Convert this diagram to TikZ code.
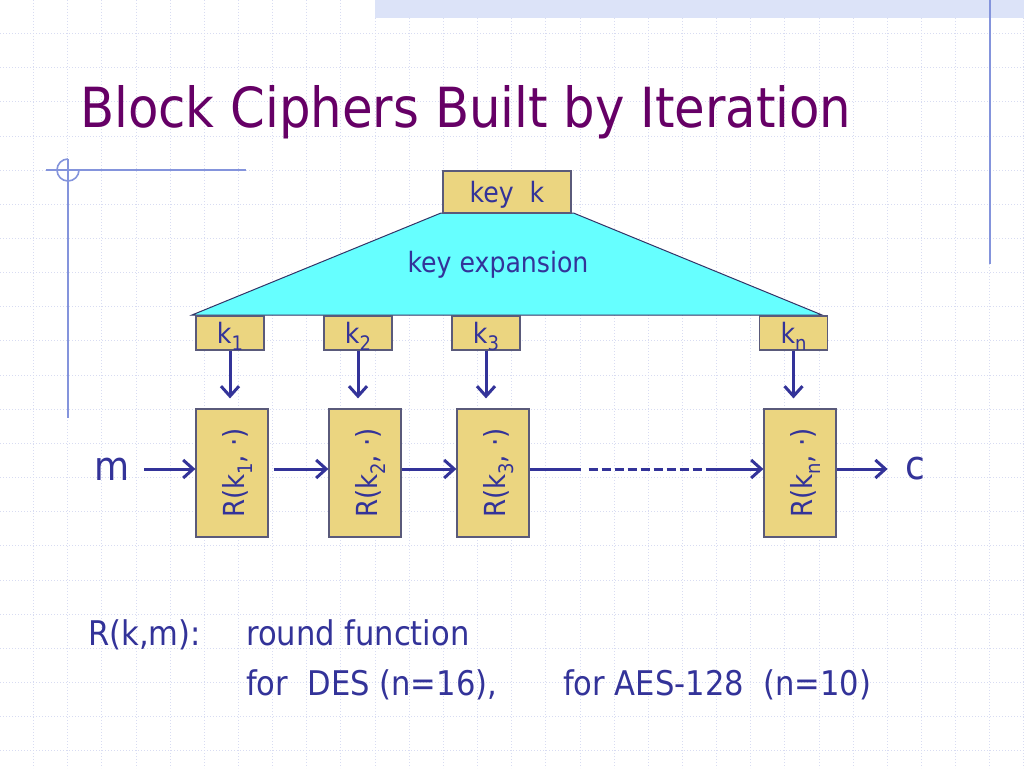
\documentclass[tikz,border=0pt]{standalone}
\usepackage{fontspec}
\setmainfont{DejaVu Sans Condensed}
\usetikzlibrary{arrows.meta,calc}
\definecolor{titlec}{HTML}{660066}
\definecolor{txt}{HTML}{333399}
\definecolor{boxfill}{HTML}{EBD580}
\definecolor{boxdraw}{HTML}{5A5A7A}
\definecolor{cyanfill}{HTML}{66FFFF}
\definecolor{trapdraw}{HTML}{333366}
\definecolor{deco}{HTML}{8494DC}
\definecolor{gridc}{HTML}{D8DCF2}
\definecolor{band}{HTML}{DCE3F8}
\newcommand{\lowidx}[1]{\raisebox{-0.28em}{\fontsize{20}{21}\selectfont #1}}
\begin{document}
\begin{tikzpicture}[x=1pt,y=-1pt,
  gridline/.style={gridc, line width=0.8pt, dash pattern=on 1pt off 2pt},
  decoline/.style={deco, line width=1.6pt},
  kbox/.style={draw=boxdraw, fill=boxfill, line width=1.2pt, inner sep=0pt,
    minimum width=68pt, minimum height=34pt, text height=27pt, text depth=7pt,
    text=txt, font=\fontsize{28}{32}\selectfont},
  keybox/.style={kbox, minimum width=128pt, minimum height=42pt, text height=31pt, text depth=11pt},
  rbox/.style={draw=boxdraw, fill=boxfill, line width=1.2pt, inner sep=0pt, rotate=90,
    minimum width=128pt, minimum height=72pt, text height=48pt, text depth=24pt,
    text=txt, font=\fontsize{29}{32}\selectfont},
  flow/.style={txt, line width=3pt},
  arr/.style={flow, -{Straight Barb[length=10pt,width=18pt]}},
  lbl/.style={text=txt, inner sep=0pt},
]
\useasboundingbox (0,0) rectangle (1024,768);
\fill[white] (0,0) rectangle (1024,768);
% grid
\foreach \i in {0,...,29} \draw[gridline] ({33.5+34.15*\i},0) -- ++(0,768);
\foreach \j in {0,...,21} \draw[gridline] (0,{33.5+34.15*\j}) -- ++(1024,0);
\fill[band] (375,0) rectangle (1024,18);
% decoration
\draw[decoline] (990,0) -- (990,264);
\draw[decoline] (46,170) -- (246,170);
\draw[decoline] (68,159) -- (68,418);
\draw[decoline] (68,159) arc[start angle=270, end angle=0, radius=11];
% title
\node[anchor=base west, inner sep=0pt, text=titlec, font=\fontsize{55.3}{60}\selectfont] (title) at (80,127) {Block Ciphers Built by Iteration};
% key expansion
\fill[cyanfill, draw=trapdraw, line width=1pt] (441,213) -- (573.5,213) -- (822,315) -- (192,315) -- cycle;
\node[lbl, anchor=base, font=\fontsize{28}{32}\selectfont] (kexp) at (498,272) {key expansion};
\node[keybox] (key) at (507,192) {key\ \ k};
% round keys
\node[kbox] (k1) at (230,333) {k\lowidx{1}};
\node[kbox] (k2) at (358,333) {k\lowidx{2}};
\node[kbox] (k3) at (486,333) {k\lowidx{3}};
\node[kbox] (kn) at (793.5,333) {k\lowidx{n}};
% rounds (rotated: north = left side, south = right side, east = top)
\node[rbox] (R1) at (232,473) {R(k\lowidx{1}, ·)};
\node[rbox] (R2) at (365,473) {R(k\lowidx{2}, ·)};
\node[rbox] (R3) at (493,473) {R(k\lowidx{3}, ·)};
\node[rbox] (Rn) at (800,473) {R(k\lowidx{n}, ·)};
% m and c
\node[lbl, font=\fontsize{40}{44}\selectfont] (m) at (112,469) {m};
\node[lbl, font=\fontsize{40}{44}\selectfont] (c) at (915,469) {c};
% down arrows
\foreach \a/\b in {k1/R1,k2/R2,k3/R3,kn/Rn}
  \draw[arr, shorten >=10pt] (\a.south) -- (\a.south |- \b.east);
% horizontal flow
\coordinate (mR1) at ($(R1.north)+(0,-4)$);
\draw[arr] ($(mR1)+(-51,0)$) -- (mR1);
\draw[arr] ($(R1.south)+(5,-4)$) -- ($(R2.north)+(0,-4)$);
\draw[arr] ($(R2.south)+(0,-4)$) -- ($(R3.north)+(0,-4)$);
\draw[flow] ($(R3.south)+(0,-4)$) -- ($(R3.south)+(51,-4)$);
\draw[flow, dash pattern=on 9pt off 4pt] ($(R3.south)+(59,-4)$) -- ($(Rn.north)+(-50,-4)$);
\draw[arr] ($(Rn.north)+(-52,-4)$) -- ($(Rn.north)+(0,-4)$);
\draw[arr] ($(Rn.south)+(0,-4)$) -- ($(Rn.south)+(51,-4)$);
% bottom text
\node[lbl, anchor=base west, font=\fontsize{34}{38}\selectfont] (rdef) at (88,645) {R(k,m):};
\node[lbl, anchor=base west, font=\fontsize{34}{38}\selectfont] (rf) at (246,645) {round function};
\node[lbl, anchor=base west, font=\fontsize{34}{38}\selectfont] (des) at (246,695) {for\ \ DES (n=16),};
\node[lbl, anchor=base west, font=\fontsize{34}{38}\selectfont] (aes) at (563,695) {for AES-128\ \ (n=10)};
\end{tikzpicture}
\end{document}
